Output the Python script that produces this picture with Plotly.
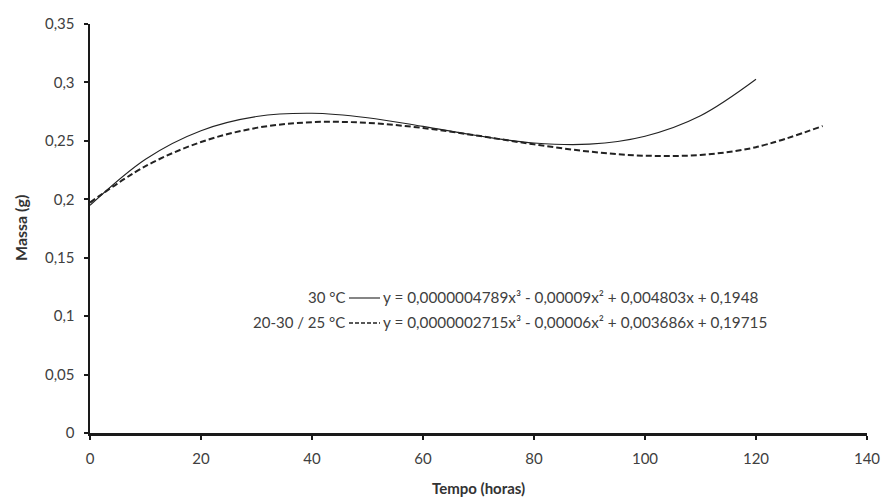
import plotly.graph_objects as go

# Values (hours vs mass in g)
tempo_30 = [0, 10, 20, 30, 40, 50, 60, 70, 80, 90, 100, 110, 120]
massa_30 = [0.1948, 0.2343, 0.2587, 0.2708, 0.2736, 0.2698, 0.2624,
            0.2543, 0.2482, 0.2472, 0.2540, 0.2715, 0.3027]

tempo_alt = [0, 10, 20, 30, 40, 50, 60, 70, 80, 90, 100, 110, 120, 132]
massa_alt = [0.1972, 0.2283, 0.2490, 0.2611, 0.2660, 0.2654, 0.2610,
             0.2543, 0.2470, 0.2408, 0.2373, 0.2380, 0.2446, 0.2627]

label_30 = "30 °C"
label_alt = "20-30 / 25 °C"
eq_30 = "y = 0,0000004789x³ - 0,00009x² + 0,004803x + 0,1948"
eq_alt = "y = 0,0000002715x³ - 0,00006x² + 0,003686x + 0,19715"

x_ticks = [0, 20, 40, 60, 80, 100, 120, 140]
y_ticks = [0, 0.05, 0.1, 0.15, 0.2, 0.25, 0.3, 0.35]

FONT = "Lato"
GRAY = "#404040"

fig = go.Figure()
fig.add_trace(go.Scatter(x=tempo_30, y=massa_30, mode="lines",
                         line=dict(color="#222222", width=1.1, shape="spline"),
                         name=label_30, showlegend=False, hoverinfo="skip"))
fig.add_trace(go.Scatter(x=tempo_alt, y=massa_alt, mode="lines",
                         line=dict(color="#222222", width=2, shape="spline", dash="6px,3px"),
                         name=label_alt, showlegend=False, hoverinfo="skip"))

W, H = 884, 498
PL, PR, PT, PB = 90, 867, 24, 433          # plot area edges in page pixels
L, T = PL, PT
R = W - PR
B = H - PB
pw, ph = W - L - R, H - T - B

def px(xp):
    return (xp - L) / pw

def py(yp):
    return (H - B - yp) / ph

rows = [(label_30, eq_30, 297, "solid", 1.1), (label_alt, eq_alt, 322, "4px,2px", 1.6)]
for lab, eq, yy, dash, w in rows:
    fig.add_annotation(xref="paper", yref="paper", x=px(347), y=py(yy), text=lab,
                       showarrow=False, xanchor="right", yanchor="middle",
                       font=dict(family=FONT, size=15, color=GRAY))
    fig.add_annotation(xref="paper", yref="paper", x=px(381), y=py(yy), text=eq,
                       showarrow=False, xanchor="left", yanchor="middle",
                       font=dict(family=FONT, size=15.3, color=GRAY))
    fig.add_shape(type="line", xref="paper", yref="paper",
                  x0=px(349), x1=px(380), y0=py(yy + 1), y1=py(yy + 1),
                  line=dict(color="#222222", width=w, dash=dash))

fig.add_annotation(xref="paper", yref="paper", x=px(479), y=py(488), text="<b>Tempo (horas)</b>",
                   showarrow=False, xanchor="center", yanchor="middle",
                   font=dict(family=FONT, size=15, color="#333333"))
fig.add_annotation(xref="paper", yref="paper", x=px(20), y=py(228), text="<b>Massa (g)</b>",
                   showarrow=False, xanchor="center", yanchor="middle", textangle=-90,
                   font=dict(family=FONT, size=16, color="#333333"))

fig.update_layout(
    width=W, height=H,
    margin=dict(l=L, r=R, t=T, b=B),
    paper_bgcolor="white", plot_bgcolor="white",
    separators=", ",
    hovermode=False,
    font=dict(family=FONT, size=15, color=GRAY),
    xaxis=dict(range=[0, 140], tickvals=x_ticks, showgrid=False, zeroline=False,
               automargin=False, ticklabelstandoff=6,
               showline=True, linecolor="#1a1a1a", linewidth=2.5,
               ticks="outside", ticklen=4, tickwidth=2, tickcolor="#1a1a1a",
               tickfont=dict(family=FONT, size=15, color=GRAY)),
    yaxis=dict(range=[0, 0.35], tickvals=y_ticks, showgrid=False, zeroline=False,
               automargin=False, ticklabelstandoff=6,
               showline=True, linecolor="#1a1a1a", linewidth=2.5,
               ticks="outside", ticklen=4, tickwidth=2, tickcolor="#1a1a1a",
               tickfont=dict(family=FONT, size=15, color=GRAY)),
)

fig.write_html("out.html",
               config={"displayModeBar": False, "staticPlot": True},
               post_script="document.body.style.margin='0';document.body.style.overflow='hidden';")
